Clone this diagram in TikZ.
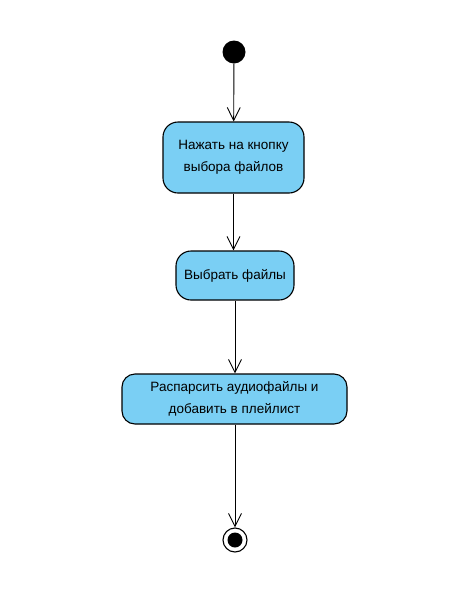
\documentclass[tikz,border=0pt]{standalone}
\usepackage{fontspec}
\setmainfont{Liberation Sans}
\usetikzlibrary{arrows.meta}
\definecolor{actfill}{HTML}{7ACFF4}
\begin{document}
\begin{tikzpicture}[x=1pt,y=-1pt,
  action/.style={draw=black, line width=1.1pt, fill=actfill, rounded corners=#1,
    inner sep=0pt, align=center, font=\fontsize{13.5}{21.5}\selectfont},
  action/.default=15pt,
  flow/.style={draw=black, line width=0.9pt, -{Straight Barb[length=13pt,width=13pt,line width=0.9pt]}}]
  \useasboundingbox (0,0) rectangle (466,611);
  % initial node
  \node[circle, fill=black, minimum size=23pt, inner sep=0pt] (start) at (234,52) {};
  % actions
  \node[action, minimum width=141pt, minimum height=71pt] (a1) at (233.5,157.5)
    {Нажать на кнопку\\выбора файлов};
  \node[action, minimum width=118pt, minimum height=49pt] (a2) at (235,275.5)
    {Выбрать файлы};
  \node[action=13pt, minimum width=225pt, minimum height=50pt] (a3) at (234.5,399)
    {Распарсить аудиофайлы и\\добавить в плейлист};
  % final node
  \node[circle, draw=black, line width=1.1pt, fill=white, minimum size=24pt, inner sep=0pt] (end) at (235,540) {};
  \node[circle, fill=black, minimum size=15pt, inner sep=0pt] (endin) at (end.center) {};
  % control flows
  \draw[flow] (start) -- (a1);
  \draw[flow] (a1) -- (a1 |- a2.north);
  \draw[flow] (a2) -- (a2 |- a3.north);
  \draw[flow] (a3.south -| end) -- (end);
\end{tikzpicture}
\end{document}
